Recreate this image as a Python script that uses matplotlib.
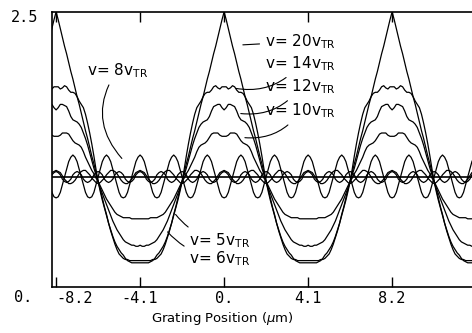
import numpy as np
import matplotlib
matplotlib.use("Agg")
import matplotlib.pyplot as plt

# grating period (um) and half-period sample positions
period = 8.2
x_half = np.linspace(0, 4.1, 41)

# intensity over one half period (peak at 0, trough at 4.1)
v20 = [2.50, 2.43, 2.35, 2.27, 2.19, 2.12, 2.04, 1.96, 1.89, 1.81,
       1.73, 1.66, 1.58, 1.50, 1.42, 1.35, 1.27, 1.19, 1.12, 1.04,
       0.96, 0.89, 0.81, 0.73, 0.66, 0.58, 0.51, 0.45, 0.39, 0.34,
       0.30, 0.28, 0.26, 0.25, 0.25, 0.24, 0.24, 0.24, 0.24, 0.24, 0.24]
v14 = [1.82, 1.82, 1.80, 1.81, 1.83, 1.82, 1.79, 1.77, 1.77, 1.76,
       1.73, 1.69, 1.66, 1.63, 1.57, 1.49, 1.40, 1.30, 1.19, 1.07,
       0.96, 0.87, 0.79, 0.72, 0.65, 0.58, 0.52, 0.46, 0.41, 0.37,
       0.34, 0.31, 0.29, 0.26, 0.24, 0.23, 0.22, 0.22, 0.22, 0.22, 0.22]
v12 = [1.61, 1.63, 1.66, 1.66, 1.65, 1.64, 1.60, 1.55, 1.52, 1.51,
       1.50, 1.48, 1.45, 1.40, 1.35, 1.29, 1.22, 1.15, 1.08, 1.02,
       0.96, 0.90, 0.85, 0.80, 0.75, 0.70, 0.65, 0.60, 0.56, 0.52,
       0.49, 0.46, 0.43, 0.41, 0.40, 0.39, 0.38, 0.38, 0.37, 0.37, 0.38]
v10 = [1.37, 1.37, 1.38, 1.40, 1.40, 1.40, 1.39, 1.36, 1.33, 1.31,
       1.30, 1.29, 1.27, 1.23, 1.18, 1.14, 1.10, 1.06, 1.03, 0.99,
       0.96, 0.92, 0.88, 0.84, 0.80, 0.77, 0.74, 0.71, 0.68, 0.66,
       0.65, 0.64, 0.63, 0.63, 0.63, 0.63, 0.62, 0.62, 0.62, 0.62, 0.62]
v8 = [1.05, 1.04, 1.02, 0.98, 0.96, 0.95, 0.96, 0.98, 1.02, 1.04,
      1.05, 1.04, 1.02, 0.98, 0.96, 0.95, 0.96, 0.98, 1.02, 1.04,
      1.05, 1.04, 1.02, 0.98, 0.96, 0.95, 0.96, 0.98, 1.02, 1.04,
      1.05, 1.04, 1.02, 0.98, 0.96, 0.95, 0.96, 0.98, 1.02, 1.04, 1.05]
v6 = [1.06, 1.05, 1.04, 1.01, 0.98, 0.96, 0.94, 0.94, 0.95, 0.97,
      1.00, 1.03, 1.05, 1.06, 1.06, 1.04, 1.02, 0.99, 0.97, 0.95,
      0.94, 0.95, 0.97, 0.99, 1.02, 1.04, 1.06, 1.06, 1.05, 1.03,
      1.00, 0.97, 0.95, 0.94, 0.94, 0.96, 0.98, 1.01, 1.04, 1.05, 1.06]
v5 = [0.81, 0.82, 0.86, 0.93, 1.00, 1.07, 1.14, 1.18, 1.20, 1.18,
      1.14, 1.07, 1.00, 0.93, 0.86, 0.82, 0.81, 0.82, 0.86, 0.93,
      1.00, 1.07, 1.14, 1.18, 1.20, 1.18, 1.14, 1.07, 1.00, 0.93,
      0.86, 0.82, 0.81, 0.82, 0.86, 0.93, 1.00, 1.07, 1.14, 1.18, 1.20]

xticks = [-8.2, -4.1, 0, 4.1, 8.2]
xticklabels = ["-8.2", "-4.1", "0.", "4.1", "8.2"]


def periodic(half):
    # mirror the half period and repeat it along the grating
    h = np.asarray(half)
    xp = np.concatenate([-x_half[::-1], x_half[1:]])
    yp = np.concatenate([h[::-1], h[1:]])
    xs, ys = [], []
    for k in range(-2, 3):
        xs.append(xp[:-1] + k * period)
        ys.append(yp[:-1])
    return np.concatenate(xs), np.concatenate(ys)


fig = plt.figure(figsize=(4.72, 3.33), dpi=100)
ax = fig.add_axes([52 / 472, 46 / 333, 428 / 472, 275 / 333])

for curve in [v20, v14, v12, v10, v8, v6, v5]:
    xs, ys = periodic(curve)
    ax.plot(xs, ys, color="black", lw=0.9)

ax.axhline(1.0, color="black", lw=1.2)

ax.set_xlim(-8.4, 12.49)
ax.set_ylim(0, 2.5)
ax.spines["right"].set_visible(False)
for s in ["left", "bottom", "top"]:
    ax.spines[s].set_linewidth(1.2)

tick_font = "DejaVu Sans Mono"
ax.set_xticks(xticks)
ax.set_xticklabels(xticklabels, family=tick_font, fontsize=11)
ax.get_xticklabels()[0].set_horizontalalignment("left")
ax.tick_params(axis="x", direction="in", length=7, width=1.0, top=True, pad=3)
ax.set_yticks([])
ax.text(-0.033, 2.45, "2.5", family=tick_font, fontsize=11, ha="right", va="center",
        transform=ax.get_yaxis_transform())
ax.text(-0.047, -0.10, "0.", family=tick_font, fontsize=11, ha="right", va="center",
        transform=ax.get_yaxis_transform(), clip_on=False)
ax.set_xlabel(r"Grating Position ($\mu$m)", fontsize=9.5)
ax.xaxis.set_label_coords(0.397, -0.085)

lab = dict(fontsize=11, va="center", ha="left")
arr = dict(arrowstyle="-", color="black", lw=0.8)
ax.annotate(r"v= 20v$_\mathregular{TR}$", xy=(0.78, 2.20), xytext=(2.0, 2.23),
            arrowprops=dict(arr, connectionstyle="arc3,rad=0"), **lab)
ax.annotate(r"v= 14v$_\mathregular{TR}$", xy=(0.44, 1.81), xytext=(2.0, 2.03),
            arrowprops=dict(arr, connectionstyle="arc3,rad=-0.3"), **lab)
ax.annotate(r"v= 12v$_\mathregular{TR}$", xy=(0.68, 1.58), xytext=(2.0, 1.82),
            arrowprops=dict(arr, connectionstyle="arc3,rad=-0.3"), **lab)
ax.annotate(r"v= 10v$_\mathregular{TR}$", xy=(0.88, 1.36), xytext=(2.0, 1.60),
            arrowprops=dict(arr, connectionstyle="arc3,rad=-0.3"), **lab)
ax.annotate(r"v= 8v$_\mathregular{TR}$", xy=(-4.9, 1.15), xytext=(-6.7, 1.97),
            arrowprops=dict(arr, connectionstyle="arc3,rad=0.4"), **lab)
ax.annotate(r"v= 5v$_\mathregular{TR}$", xy=(-2.45, 0.68), xytext=(-1.7, 0.42),
            arrowprops=dict(arr, connectionstyle="arc3,rad=-0.2"), **lab)
ax.annotate(r"v= 6v$_\mathregular{TR}$", xy=(-2.85, 0.52), xytext=(-1.7, 0.26),
            arrowprops=dict(arr, connectionstyle="arc3,rad=-0.2"), **lab)

fig.savefig("out.png", dpi=100)
